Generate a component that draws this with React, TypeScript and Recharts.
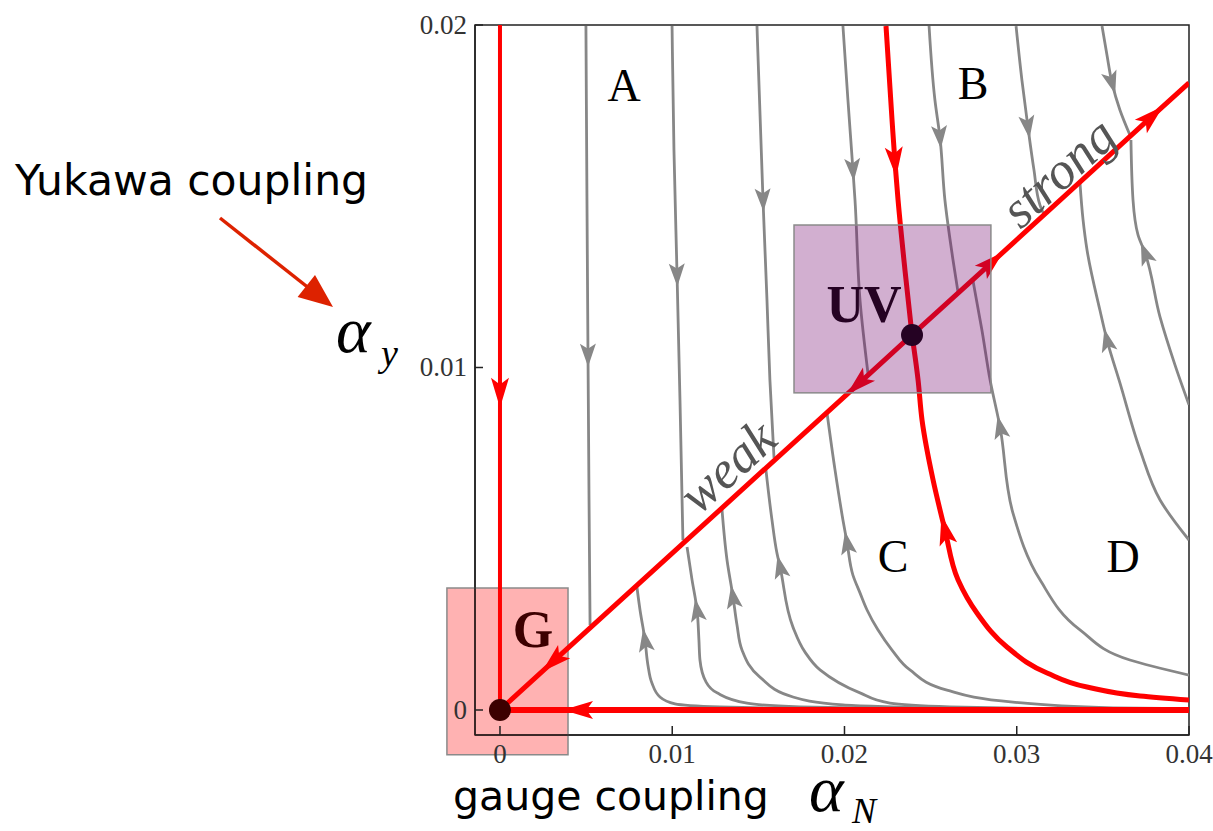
import React from "react";
import { ComposedChart, Line, Scatter, XAxis, YAxis, ReferenceArea } from "recharts";

type P = { x: number; y: number };

// axis ranges and ticks
const X_MIN = -0.00145;
const X_MAX = 0.04;
const Y_MIN = -0.00073;
const Y_MAX = 0.02;
const xTicks = [0, 0.01, 0.02, 0.03, 0.04];
const yTicks = [0, 0.01, 0.02];

// fixed points
const gaussian: P = { x: 0, y: 0 };
const uvPoint: P = { x: 0.02392, y: 0.01095 };

// red separatrices, listed in flow direction
const redVertical: P[] = [{ x: 0, y: 0.02 }, { x: 0, y: 0.00926 }, { x: 0, y: 0 }];
const redHorizontal: P[] = [{ x: 0.04, y: 0 }, { x: 0.00453, y: 0 }, { x: 0, y: 0 }];
const redWeak: P[] = [uvPoint, { x: 0.02078, y: 0.00951 }, { x: 0.00308, y: 0.00141 }, gaussian];
const redStrong: P[] = [uvPoint, { x: 0.02856, y: 0.01307 }, { x: 0.03785, y: 0.01733 }, { x: 0.04, y: 0.01831 }];
const redFromTop: P[] = [
  { x: 0.02241, y: 0.01997 }, { x: 0.02276, y: 0.01723 }, { x: 0.02293, y: 0.016 },
  { x: 0.02311, y: 0.01489 }, { x: 0.02351, y: 0.01285 }, uvPoint,
];
const redFromRight: P[] = [
  { x: 0.04, y: 0.00029 }, { x: 0.03716, y: 0.00041 }, { x: 0.03408, y: 0.00067 },
  { x: 0.03176, y: 0.00108 }, { x: 0.02943, y: 0.00184 }, { x: 0.02769, y: 0.00283 },
  { x: 0.02659, y: 0.0038 }, { x: 0.02583, y: 0.00526 }, { x: 0.02514, y: 0.00672 },
  { x: 0.0245, y: 0.00847 }, { x: 0.02427, y: 0.00964 }, uvPoint,
];

// grey stream lines, listed in flow direction
const flowA1: P[] = [
  { x: 0.00499, y: 0.01997 }, { x: 0.00505, y: 0.01489 }, { x: 0.00511, y: 0.01036 },
  { x: 0.00517, y: 0.00613 }, { x: 0.00523, y: 0.00248 },
];
const flowA2: P[] = [
  { x: 0.00999, y: 0.01997 }, { x: 0.0101, y: 0.01635 }, { x: 0.01028, y: 0.0127 },
  { x: 0.01045, y: 0.00905 }, { x: 0.01062, y: 0.00496 },
];
const flowA3: P[] = [
  { x: 0.01492, y: 0.01997 }, { x: 0.01527, y: 0.01489 }, { x: 0.0155, y: 0.01197 },
  { x: 0.01567, y: 0.00964 }, { x: 0.01591, y: 0.00736 },
];
const flowA4: P[] = [
  { x: 0.01991, y: 0.01997 }, { x: 0.0202, y: 0.01781 }, { x: 0.02049, y: 0.01577 },
  { x: 0.02061, y: 0.01489 }, { x: 0.0209, y: 0.01197 }, { x: 0.02136, y: 0.00984 },
];
const flowB5: P[] = [
  { x: 0.02491, y: 0.01997 }, { x: 0.02525, y: 0.01781 }, { x: 0.02554, y: 0.01673 },
  { x: 0.02583, y: 0.01489 }, { x: 0.0263, y: 0.01314 }, { x: 0.02659, y: 0.0122 },
];
const flowB6: P[] = [
  { x: 0.02996, y: 0.01997 }, { x: 0.0303, y: 0.01839 }, { x: 0.03065, y: 0.01702 },
  { x: 0.031, y: 0.01577 }, { x: 0.03135, y: 0.01474 }, { x: 0.03158, y: 0.01446 },
];
const flowB7: P[] = [
  { x: 0.03495, y: 0.01997 }, { x: 0.03524, y: 0.01912 }, { x: 0.03553, y: 0.01831 },
  { x: 0.03599, y: 0.01752 }, { x: 0.03657, y: 0.01679 },
];
const flowC1: P[] = [
  { x: 0.01742, y: 0.00004 }, { x: 0.01277, y: 0.00009 }, { x: 0.01016, y: 0.00018 },
  { x: 0.00929, y: 0.00038 }, { x: 0.00882, y: 0.00079 }, { x: 0.00859, y: 0.00131 },
  { x: 0.00842, y: 0.00204 }, { x: 0.00813, y: 0.00292 }, { x: 0.00795, y: 0.00359 },
];
const flowC2: P[] = [
  { x: 0.02322, y: 0.00004 }, { x: 0.01742, y: 0.00009 }, { x: 0.01434, y: 0.0002 },
  { x: 0.0126, y: 0.0005 }, { x: 0.01196, y: 0.00082 }, { x: 0.01161, y: 0.00146 },
  { x: 0.01155, y: 0.00204 }, { x: 0.01144, y: 0.00292 }, { x: 0.01115, y: 0.0038 },
  { x: 0.01086, y: 0.00476 },
];
const flowC3: P[] = [
  { x: 0.02612, y: 0.00004 }, { x: 0.01991, y: 0.00015 }, { x: 0.01701, y: 0.00038 },
  { x: 0.01509, y: 0.00096 }, { x: 0.01405, y: 0.00175 }, { x: 0.01376, y: 0.00248 },
  { x: 0.01353, y: 0.0033 }, { x: 0.01318, y: 0.00438 }, { x: 0.01289, y: 0.00584 },
];
const flowC4: P[] = [
  { x: 0.03193, y: 0.00004 }, { x: 0.02612, y: 0.00009 }, { x: 0.02264, y: 0.0002 },
  { x: 0.0209, y: 0.0005 }, { x: 0.01858, y: 0.00117 }, { x: 0.01771, y: 0.00169 },
  { x: 0.01701, y: 0.00242 }, { x: 0.01626, y: 0.00418 }, { x: 0.01608, y: 0.00458 },
  { x: 0.01579, y: 0.00555 }, { x: 0.01544, y: 0.00701 },
];
const flowC5: P[] = [
  { x: 0.04, y: 0.00004 }, { x: 0.03559, y: 0.00006 }, { x: 0.02978, y: 0.00023 },
  { x: 0.02595, y: 0.00058 }, { x: 0.0238, y: 0.00117 }, { x: 0.02276, y: 0.00175 },
  { x: 0.02194, y: 0.00234 }, { x: 0.02131, y: 0.00292 }, { x: 0.0209, y: 0.00342 },
  { x: 0.02049, y: 0.00394 }, { x: 0.02015, y: 0.00488 }, { x: 0.01991, y: 0.00555 },
  { x: 0.01945, y: 0.00701 }, { x: 0.01898, y: 0.0087 },
];
const flowD5: P[] = [
  { x: 0.04, y: 0.00102 }, { x: 0.03657, y: 0.00146 }, { x: 0.03367, y: 0.00234 },
  { x: 0.03135, y: 0.0038 }, { x: 0.02978, y: 0.00575 }, { x: 0.02903, y: 0.00826 },
  { x: 0.02845, y: 0.00964 }, { x: 0.02798, y: 0.01109 }, { x: 0.02746, y: 0.01253 },
];
const flowD6: P[] = [
  { x: 0.04, y: 0.00496 }, { x: 0.03832, y: 0.00613 }, { x: 0.03716, y: 0.00759 },
  { x: 0.03599, y: 0.00955 }, { x: 0.03524, y: 0.0108 }, { x: 0.03483, y: 0.01167 },
  { x: 0.03408, y: 0.01343 }, { x: 0.03385, y: 0.01431 }, { x: 0.03367, y: 0.01539 },
];
const flowD7: P[] = [
  { x: 0.04, y: 0.00891 }, { x: 0.03919, y: 0.01007 }, { x: 0.03832, y: 0.01147 },
  { x: 0.03745, y: 0.01334 }, { x: 0.03704, y: 0.01387 }, { x: 0.03675, y: 0.01489 },
  { x: 0.03663, y: 0.01664 },
];

const greyFlows = [flowA1, flowA2, flowA3, flowA4, flowB5, flowB6, flowB7, flowC1, flowC2, flowC3, flowC4, flowC5, flowD5, flowD6, flowD7];
const redFlows = [redVertical, redHorizontal, redWeak, redStrong, redFromTop, redFromRight];

// where the arrow heads sit: [curve, point index]
const greyArrowAt: [P[], number][] = [
  [flowA1, 2], [flowA2, 2], [flowA3, 1], [flowA4, 2], [flowB5, 2], [flowB6, 2], [flowB7, 2],
  [flowC1, 6], [flowC2, 7], [flowC3, 6], [flowC4, 7], [flowC5, 10], [flowD5, 5], [flowD6, 4], [flowD7, 3],
];
const redArrowAt: [P[], number][] = [
  [redVertical, 1], [redHorizontal, 1], [redWeak, 1], [redWeak, 2], [redStrong, 1], [redStrong, 2],
  [redFromTop, 2], [redFromRight, 7],
];

// annotations
const regionLabels = [
  { x: 0.0072, y: 0.01778, text: "A" },
  { x: 0.02746, y: 0.01784, text: "B" },
  { x: 0.02282, y: 0.00403, text: "C" },
  { x: 0.03617, y: 0.00403, text: "D" },
];
const pointLabels = [
  { x: 0.00192, y: 0.00184, text: "G" },
  { x: 0.02113, y: 0.01133, text: "UV" },
];
const flowLabels = [
  { x: 0.01318, y: 0.00712, text: "weak" },
  { x: 0.0324, y: 0.01571, text: "strong" },
];
const gBox = { x1: -0.00308, x2: 0.00395, y1: -0.00131, y2: 0.00356 };
const uvBox = { x1: 0.01707, x2: 0.0285, y1: 0.00926, y2: 0.01416 };

// layout
const W = 1213;
const H = 831;
const MARGIN = { top: 25, right: 24, bottom: 56, left: 415 };
const Y_AXIS_W = 60;
const X_AXIS_H = 40;
const PLOT_W = W - MARGIN.left - MARGIN.right - Y_AXIS_W;
const PLOT_H = H - MARGIN.top - MARGIN.bottom - X_AXIS_H;
const KX = PLOT_W / (X_MAX - X_MIN);
const KY = PLOT_H / (Y_MAX - Y_MIN);
const DIAG_ANGLE = (-Math.atan((uvPoint.y / uvPoint.x) * (KY / KX)) * 180) / Math.PI;

const SERIF = "'Liberation Serif', 'Times New Roman', serif";
const HAND = "'DejaVu Sans', sans-serif";
const GREY = "#878787";
const RED = "#ff0000";

const toArrows = (list: [P[], number][]) =>
  list.map(([c, i]) => ({ x: c[i].x, y: c[i].y, nx: c[i + 1].x, ny: c[i + 1].y }));
const greyArrows = toArrows(greyArrowAt);
const redArrows = toArrows(redArrowAt);

const arrowShape = (color: string, len: number, half: number) => (props: any) => {
  const { cx, cy, payload } = props;
  const dx = (payload.nx - payload.x) * KX;
  const dy = -(payload.ny - payload.y) * KY;
  const ang = (Math.atan2(dy, dx) * 180) / Math.PI;
  const b = -len / 2;
  return (
    <path
      d={`M ${len / 2} 0 L ${b} ${half} L ${b + len * 0.22} 0 L ${b} ${-half} Z`}
      transform={`translate(${cx},${cy}) rotate(${ang})`}
      fill={color}
    />
  );
};

// translucent box drawn on top of the curves, anchored at its top-left corner
const boxShape = (box: typeof uvBox, fill: string, opacity: number) => (props: any) => (
  <rect
    x={props.cx}
    y={props.cy}
    width={(box.x2 - box.x1) * KX}
    height={(box.y2 - box.y1) * KY}
    fill={fill}
    fillOpacity={opacity}
    stroke="#8a8a8a"
    strokeWidth={1.5}
  />
);

const fmt = (v: number) => String(v);

const XTick = (props: any) => {
  const { x, y, payload } = props;
  return (
    <g>
      <line x1={x} x2={x} y1={y} y2={y - 9} stroke="#222" strokeWidth={1.5} />
      <text x={x} y={y + 28} textAnchor="middle" fontFamily={SERIF} style={{ fontSize: 27 }} fill="#333">
        {fmt(payload.value)}
      </text>
    </g>
  );
};

const YTick = (props: any) => {
  const { x, y, payload } = props;
  return (
    <g>
      <line x1={x} x2={x + 8} y1={y} y2={y} stroke="#222" strokeWidth={1.5} />
      <text x={x - 8} y={y + 9} textAnchor="end" fontFamily={SERIF} style={{ fontSize: 27 }} fill="#333">
        {fmt(payload.value)}
      </text>
    </g>
  );
};

export default function App() {
  return (
    <div style={{ position: "absolute", left: 0, top: 0, width: W, height: H, background: "#fff" }}>
      <ComposedChart width={W} height={H} margin={MARGIN}>
        <XAxis
          type="number"
          dataKey="x"
          domain={[X_MIN, X_MAX]}
          ticks={xTicks}
          allowDataOverflow
          height={X_AXIS_H}
          tickSize={0}
          tickMargin={0}
          tickLine={false}
          tick={<XTick />}
          axisLine={{ stroke: "#222", strokeWidth: 1.5 }}
        />
        <YAxis
          type="number"
          dataKey="y"
          domain={[Y_MIN, Y_MAX]}
          ticks={yTicks}
          allowDataOverflow
          width={Y_AXIS_W}
          tickSize={0}
          tickMargin={0}
          tickLine={false}
          tick={<YTick />}
          axisLine={{ stroke: "#222", strokeWidth: 1.5 }}
        />
        <ReferenceArea x1={X_MIN} x2={X_MAX} y1={Y_MIN} y2={Y_MAX} fill="none" stroke="#222" strokeWidth={1.5} ifOverflow="visible" />
        <ReferenceArea {...gBox} fill="rgb(255,0,0)" fillOpacity={0.3} stroke="#8a8a8a" strokeWidth={1.5} ifOverflow="visible" />

        {greyFlows.map((d, i) => (
          <Line key={`g${i}`} data={d} dataKey="y" type="monotoneY" stroke={GREY} strokeWidth={2.8} dot={false} activeDot={false} isAnimationActive={false} />
        ))}
        <Scatter data={greyArrows} shape={arrowShape(GREY, 23, 8)} isAnimationActive={false} />

        {flowLabels.map((l) => (
          <Scatter
            key={l.text}
            data={[l]}
            isAnimationActive={false}
            shape={(p: any) => (
              <text
                x={p.cx}
                y={p.cy}
                textAnchor="middle"
                dominantBaseline="central"
                transform={`rotate(${DIAG_ANGLE} ${p.cx} ${p.cy})`}
                fontFamily={SERIF}
                fontStyle="italic"
                fontSize={53}
                fill="#555"
              >
                {p.payload.text}
              </text>
            )}
          />
        ))}

        {redFlows.map((d, i) => (
          <Line key={`r${i}`} data={d} dataKey="y" type={i >= 4 ? "monotoneY" : "linear"} stroke={RED} strokeWidth={i === 1 ? 6 : i === 0 ? 4 : 5} dot={false} activeDot={false} isAnimationActive={false} />
        ))}
        <Scatter data={redArrows} shape={arrowShape(RED, 30, 9)} isAnimationActive={false} />

        <Scatter
          data={[gaussian]}
          isAnimationActive={false}
          shape={(p: any) => <circle cx={p.cx} cy={p.cy} r={11} fill="#3c0000" />}
        />
        <Scatter
          data={[uvPoint]}
          isAnimationActive={false}
          shape={(p: any) => <circle cx={p.cx} cy={p.cy} r={11} fill="#000" />}
        />
        <Scatter
          data={pointLabels}
          isAnimationActive={false}
          shape={(p: any) => (
            <text x={p.cx} y={p.cy} textAnchor="middle" fontFamily={SERIF} fontWeight="bold" fontSize={52} fill={p.payload.text === "G" ? "#3c0000" : "#000"}>
              {p.payload.text}
            </text>
          )}
        />
        <Scatter
          data={regionLabels}
          isAnimationActive={false}
          shape={(p: any) => (
            <text x={p.cx} y={p.cy} textAnchor="middle" fontFamily={SERIF} fontSize={46} fill="#000">
              {p.payload.text}
            </text>
          )}
        />

        <Scatter
          data={[{ x: uvBox.x1, y: uvBox.y2 }]}
          isAnimationActive={false}
          shape={boxShape(uvBox, "rgb(114,5,108)", 0.32)}
        />
      </ComposedChart>

      <svg width={W} height={H} style={{ position: "absolute", left: 0, top: 0, pointerEvents: "none" }}>
        <text x={15} y={195} fontFamily={HAND} fontSize={42.5} fill="#000">Yukawa coupling</text>
        <line x1={220} y1={218} x2={310} y2={289} stroke="#dd2200" strokeWidth={3.5} />
        <path d="M 333 307 L 297.6 297 L 315 275 Z" fill="#dd2200" />
        <text x={336} y={352} fontFamily={SERIF} fontStyle="italic" fontSize={66} fill="#000">
          α<tspan x={381} y={366} fontSize={38}>y</tspan>
        </text>
        <text x={453} y={810} fontFamily={HAND} fontSize={41} fill="#000">gauge coupling</text>
        <text x={809} y={811} fontFamily={SERIF} fontStyle="italic" fontSize={66} fill="#000">
          α<tspan x={852} y={823} fontSize={36}>N</tspan>
        </text>
      </svg>
    </div>
  );
}
